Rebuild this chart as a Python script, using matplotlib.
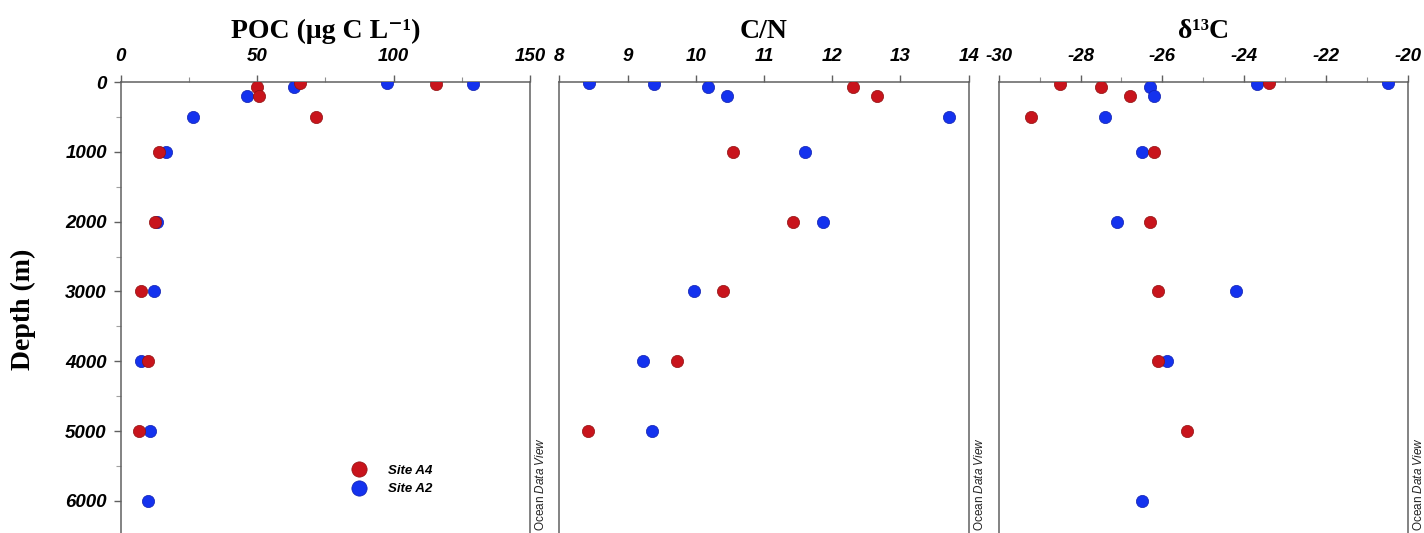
import numpy as np
import matplotlib.pyplot as plt
from matplotlib.ticker import MultipleLocator

plt.rcParams['axes.unicode_minus'] = False
plt.rcParams['mathtext.fontset'] = 'custom'
plt.rcParams['mathtext.it'] = 'Liberation Sans:italic'

nan = np.nan

# Site A4 (red)
depth_a4 = [12, 25, 65, 200, 500, 1000, 2000, 3000, 4000, 5000]
poc_a4 = [65.7, 115.7, 50.1, 50.6, 71.6, 14.2, 12.6, 7.4, 9.9, 6.6]
cn_a4 = [nan, nan, 12.30, 12.66, nan, 10.54, 11.42, 10.40, 9.73, 8.42]
d13c_a4 = [-23.4, -28.5, -27.5, -26.8, -29.2, -26.2, -26.3, -26.1, -26.1, -25.4]

# Site A2 (blue)
depth_a2 = [12, 25, 75, 200, 500, 1000, 2000, 3000, 4000, 5000, 6000]
poc_a2 = [97.5, 129.2, 63.5, 46.3, 26.4, 16.6, 13.2, 12.2, 7.3, 10.9, 10.0]
cn_a2 = [8.44, 9.39, 10.18, 10.46, 13.72, 11.60, 11.87, 9.98, 9.22, 9.36, nan]
d13c_a2 = [-20.5, -23.7, -26.3, -26.2, -27.4, -26.5, -27.1, -24.2, -25.9, nan, -26.5]

titles = ["POC (μg C L⁻¹)", "C/N", "δ¹³C"]
xlims = [(0, 150), (8, 14), (-30, -20)]
xmajor = [50, 1, 2]
xminor = [25, None, 1]

red = '#c8141c'
blue = '#1432ee'
spine_col = '#606060'
tick_font = dict(family='Liberation Sans', weight='bold', style='italic', size=13.5)
serif = ['Liberation Serif', 'DejaVu Serif']

fig = plt.figure(figsize=(14.24, 5.33), dpi=100)
W, H = 1424, 533
lefts = [120.7, 559.3, 998.7]
pw = 409.3

series = [(poc_a4, poc_a2), (cn_a4, cn_a2), (d13c_a4, d13c_a2)]

for i, ax_left in enumerate(lefts):
    ax = fig.add_axes([ax_left / W, -0.00507, pw / W, 0.85122])
    va4, va2 = series[i]
    h2, = ax.plot(va2, depth_a2, 'o', color=blue, mec='#1020b0', mew=0.5, ms=8.8, zorder=3)
    h4, = ax.plot(va4, depth_a4, 'o', color=red, mec='#901010', mew=0.5, ms=8.8, zorder=4)

    ax.set_xlim(*xlims[i])
    ax.set_ylim(6500, 0)
    ax.xaxis.tick_top()
    ax.xaxis.set_major_locator(MultipleLocator(xmajor[i]))
    if xminor[i]:
        ax.xaxis.set_minor_locator(MultipleLocator(xminor[i]))
    ax.tick_params(axis='x', which='major', direction='out', length=5, width=1,
                   color=spine_col, pad=7, top=True, bottom=False,
                   labeltop=True, labelbottom=False)
    ax.tick_params(axis='x', which='minor', direction='out', length=3.5, width=0.8,
                   color='#909090', top=True, bottom=False)

    if i == 0:
        ax.yaxis.set_major_locator(MultipleLocator(1000))
        ax.yaxis.set_minor_locator(MultipleLocator(500))
        ax.tick_params(axis='y', which='major', direction='out', length=5, width=1,
                       color=spine_col, pad=5)
        ax.tick_params(axis='y', which='minor', direction='out', length=3.5,
                       width=0.8, color='#a0a0a0')
    else:
        ax.tick_params(axis='y', which='both', left=False, labelleft=False)

    for lab in ax.get_xticklabels() + ax.get_yticklabels():
        lab.set_fontproperties(tick_font)

    for sp in ax.spines.values():
        sp.set_color(spine_col)
        sp.set_linewidth(1.1)

    ax.text(1.0 + 11 / pw, 0.0104, r"Ocean $\it{Data\ View}$", transform=ax.transAxes,
            rotation=90, ha='center', va='bottom', fontsize=8.5,
            family='Liberation Sans', color='#222222')

    fig.text((ax_left + pw / 2) / W, 1 - 37.5 / H, titles[i], ha='center',
             va='baseline', family=serif, weight='bold', fontsize=20)

    if i == 0:
        leg = ax.legend([h4, h2], ["Site A4", "Site A2"], loc='center',
                        bbox_to_anchor=(0.66, 0.123), frameon=True,
                        facecolor='white', edgecolor='none', markerscale=1.25,
                        handlelength=1.5, handletextpad=1.4, labelspacing=0.5,
                        prop=dict(family='Liberation Sans', weight='bold',
                                  style='italic', size=9.5))

fig.text(23 / W, 1 - 309 / H, "Depth (m)", rotation=90, ha='center', va='center',
         family=serif, weight='bold', fontsize=20)

fig.savefig('out.png', dpi=100)
